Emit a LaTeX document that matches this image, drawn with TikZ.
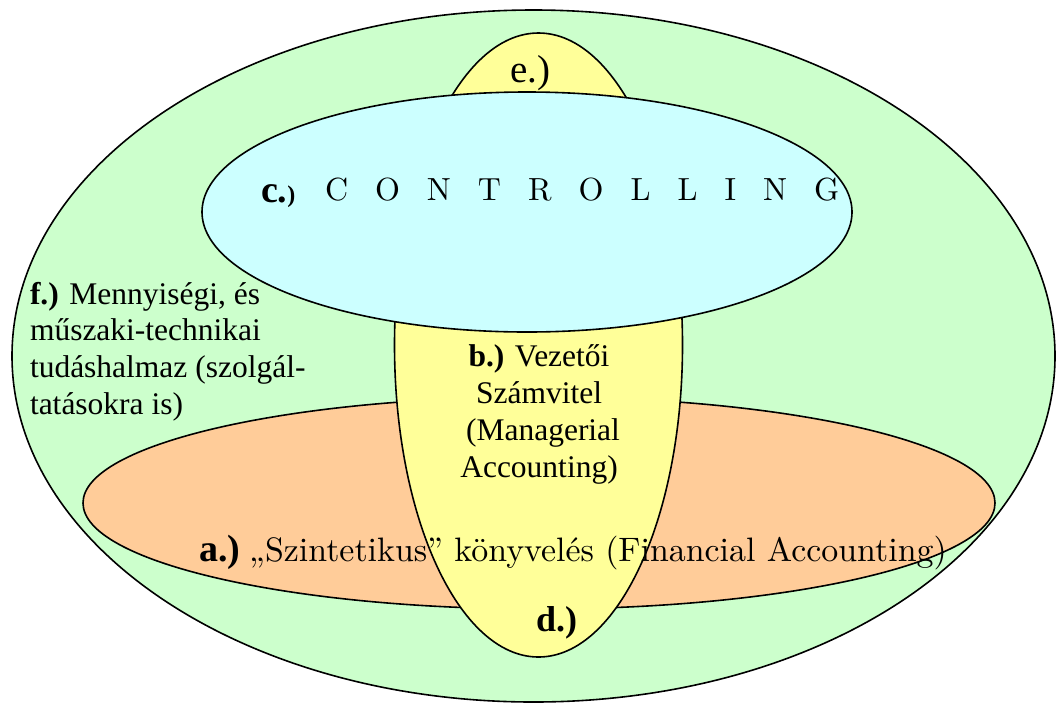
\documentclass[tikz,border=0pt]{standalone}
\usepackage{fontspec}
\newfontfamily\tms{Liberation Serif}
\newfontfamily\cmten{lmroman10-regular.otf}
\usetikzlibrary{shapes.geometric}
\definecolor{fieldgreen}{RGB}{204,255,204}
\definecolor{ctrlcyan}{RGB}{204,255,255}
\definecolor{mgmtyellow}{RGB}{255,255,153}
\definecolor{finorange}{RGB}{255,204,153}
\newcommand{\spc}{\hspace{27pt}}
\begin{document}
\begin{tikzpicture}[x=1pt,y=-1pt,
  blob/.style={ellipse, draw=black, line width=1.6pt, inner sep=0pt, outer sep=0pt},
  txt/.style={inner sep=0pt, outer sep=0pt, text=black},
  serif/.style={txt, font=\tms\fontsize{31.5}{36.7}\selectfont},
  tag/.style={txt, font=\tms\bfseries\fontsize{#1}{#1}\selectfont},
  plaintag/.style={txt, font=\tms\fontsize{#1}{#1}\selectfont},
  cm/.style={txt, font=\cmten\fontsize{#1}{#1}\selectfont}]
\useasboundingbox (0,0) rectangle (1056,702);

% nested fields
\node[blob, fill=fieldgreen, minimum width=1043pt, minimum height=692pt] (field) at (533.5,356) {};
\node[blob, fill=finorange, minimum width=912pt, minimum height=212pt] (fin) at (539,503) {};
\node[blob, fill=mgmtyellow, minimum width=288pt, minimum height=624pt] (mgmt) at (538.5,345) {};
\node[blob, fill=ctrlcyan, minimum width=650pt, minimum height=240pt] (ctrl) at (527,212) {};

% labels
\node[plaintag=39, anchor=base west] (lblE) at (510,82) {e.)};
\node[tag=38, anchor=base west] (lblC) at (261,202) {c.\fontsize{24}{24}\selectfont)};
\node[cm=32, anchor=base west] (ctrlword) at (325,200)
  {C\spc O\spc N\spc T\spc R\spc O\spc L\spc L\spc I\spc N\spc G};

\node[serif, anchor=north west, align=left] (knowledge) at (30,282)
  {\textbf{f.)} Mennyiségi, és\\műszaki-technikai\\tudáshalmaz (szolgál-\\tatásokra is)};

\node[serif, anchor=north, align=center] (mgmttext) at (539,345)
  {\textbf{b.)} Vezetői\\Számvitel\\\hspace*{8pt}(Managerial\\Accounting)};

\node[tag=38, anchor=base west] (lblA) at (199,561) {a.)};
\node[cm=33.9, anchor=base west] (fintext) at (249,561)
  {„Szintetikus” könyvelés (Financial Accounting)};

\node[tag=36, anchor=base west] (lblD) at (536,631) {d.)};
\end{tikzpicture}
\end{document}
